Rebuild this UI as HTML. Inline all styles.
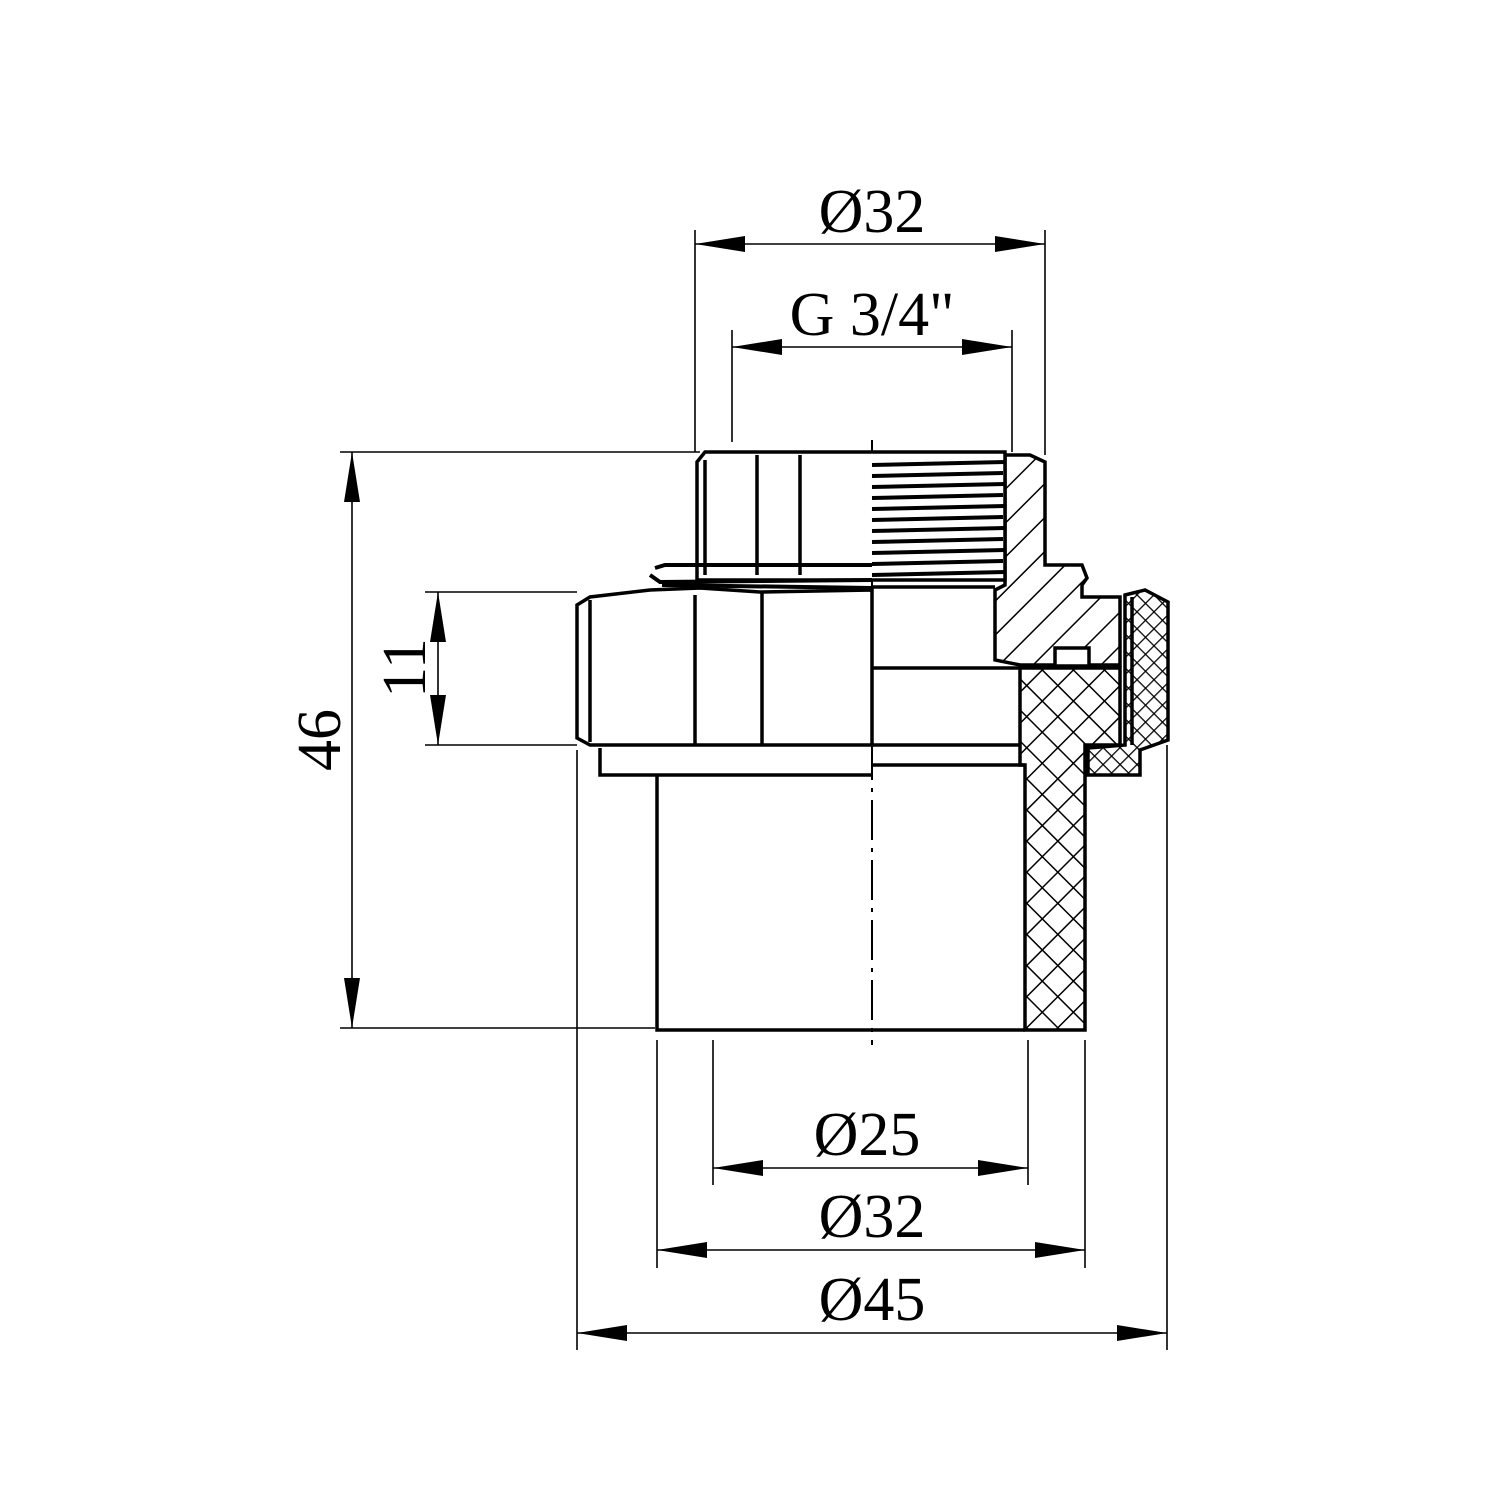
<!DOCTYPE html>
<html><head><style>html,body{margin:0;padding:0;background:#fff}</style></head><body>
<svg width="1500" height="1500" viewBox="0 0 1500 1500" xmlns="http://www.w3.org/2000/svg">
<defs>
<pattern id="diag" patternUnits="userSpaceOnUse" width="24" height="24" patternTransform="rotate(45)">
<line x1="0" y1="0" x2="0" y2="24" stroke="#000" stroke-width="3"/></pattern>
<pattern id="cross" patternUnits="userSpaceOnUse" width="22" height="22" patternTransform="rotate(45)">
<line x1="0" y1="0" x2="0" y2="22" stroke="#000" stroke-width="3"/><line x1="0" y1="0" x2="22" y2="0" stroke="#000" stroke-width="3"/></pattern>
<pattern id="crossf" patternUnits="userSpaceOnUse" width="12" height="12" patternTransform="rotate(45)">
<line x1="0" y1="0" x2="0" y2="12" stroke="#000" stroke-width="2.5"/><line x1="0" y1="0" x2="12" y2="0" stroke="#000" stroke-width="2.5"/></pattern>
<marker id="ar" viewBox="0 0 50 16" refX="50" refY="8" markerWidth="50" markerHeight="16" markerUnits="userSpaceOnUse" orient="auto-start-reverse">
<path d="M0,0 L50,8 L0,16 Z" fill="#000"/></marker>
</defs>
<g fill="none" stroke="#000" stroke-width="1.6">
<line x1="695" y1="230" x2="695" y2="452"/><line x1="1045" y1="230" x2="1045" y2="455"/>
<line x1="732" y1="330" x2="732" y2="442"/><line x1="1012" y1="330" x2="1012" y2="452"/>
<line x1="340" y1="452" x2="700" y2="452"/><line x1="340" y1="1028" x2="655" y2="1028"/>
<line x1="425" y1="592" x2="577" y2="592"/><line x1="425" y1="745" x2="577" y2="745"/>
<line x1="577" y1="750" x2="577" y2="1350"/><line x1="1167" y1="745" x2="1167" y2="1350"/>
<line x1="657" y1="1040" x2="657" y2="1268"/><line x1="1085" y1="1040" x2="1085" y2="1268"/>
<line x1="713" y1="1040" x2="713" y2="1185"/><line x1="1028" y1="1040" x2="1028" y2="1185"/>
<line x1="695" y1="244" x2="1045" y2="244" marker-start="url(#ar)" marker-end="url(#ar)"/>
<line x1="732" y1="347" x2="1012" y2="347" marker-start="url(#ar)" marker-end="url(#ar)"/>
<line x1="352" y1="452" x2="352" y2="1028" marker-start="url(#ar)" marker-end="url(#ar)"/>
<line x1="438" y1="592" x2="438" y2="745" marker-start="url(#ar)" marker-end="url(#ar)"/>
<line x1="713" y1="1168" x2="1028" y2="1168" marker-start="url(#ar)" marker-end="url(#ar)"/>
<line x1="657" y1="1250" x2="1085" y2="1250" marker-start="url(#ar)" marker-end="url(#ar)"/>
<line x1="577" y1="1333" x2="1167" y2="1333" marker-start="url(#ar)" marker-end="url(#ar)"/>
<line x1="872" y1="440" x2="872" y2="1045" stroke-dasharray="40,8,4,8" stroke-width="2"/>
</g>
<g stroke="#000" stroke-width="3.5" fill="none">
<path d="M1005,455 L1030,455 L1045,462 L1045,565 L1082,565 L1087,578 L1082,585 L1082,597 L1120,597 L1120,665 L1020,665 L995,660 L995,590 L1005,585 Z" fill="url(#diag)"/>
<rect x="1055" y="648" width="34" height="18" fill="#fff"/>
<path d="M1020,668 L1120,668 L1120,745 L1085,745 L1085,1030 L1025,1030 L1025,765 L1020,765 Z" fill="url(#cross)"/>
<path d="M1125,595 L1145,590 L1168,602 L1168,740 L1140,750 L1140,775 L1088,775 L1088,748 L1125,745 Z" fill="url(#crossf)"/>
<line x1="1132" y1="597" x2="1132" y2="745"/>
<path d="M697,462 L705,452 L1005,452 L1005,580 L697,580 Z" fill="#fff"/>
<line x1="705" y1="460" x2="705" y2="575"/><line x1="757" y1="455" x2="757" y2="575"/><line x1="800" y1="455" x2="800" y2="575"/>
<g stroke-width="4">
<line x1="872" y1="465" x2="1005" y2="462"/><line x1="872" y1="476" x2="1003" y2="473"/><line x1="872" y1="487" x2="1005" y2="484"/>
<line x1="872" y1="498" x2="1003" y2="495"/><line x1="872" y1="509" x2="1005" y2="506"/><line x1="872" y1="520" x2="1003" y2="517"/>
<line x1="872" y1="531" x2="1005" y2="528"/><line x1="872" y1="542" x2="1003" y2="539"/><line x1="872" y1="553" x2="1005" y2="550"/>
<line x1="872" y1="564" x2="1003" y2="561"/><line x1="872" y1="575" x2="1005" y2="572"/>
</g>
<path d="M655,568 L665,565 L872,565 M650,575 L660,582 L872,580 M662,585 L872,588" stroke-width="4"/>
<path d="M577,605 L590,597 L650,590 L700,588 L760,592 L872,590 L872,745 L590,745 L577,738 Z" fill="#fff"/>
<line x1="590" y1="600" x2="590" y2="742"/><line x1="695" y1="595" x2="695" y2="745"/><line x1="762" y1="592" x2="762" y2="745"/>
<path d="M600,748 L600,775 L872,775"/>
<path d="M657,775 L657,1030 L1025,1030"/>
<line x1="872" y1="587" x2="995" y2="587"/>
<line x1="872" y1="668" x2="1020" y2="668"/>
<line x1="872" y1="745" x2="1020" y2="745"/>
<line x1="872" y1="765" x2="1025" y2="765"/>
</g>
<g font-family="Liberation Serif, serif" font-size="62" fill="#000" text-anchor="middle">
<text x="872" y="232">Ø32</text>
<text x="872" y="335">G 3/4"</text>
<text x="867" y="1155">Ø25</text>
<text x="872" y="1237">Ø32</text>
<text x="872" y="1320">Ø45</text>
<text transform="translate(340,740) rotate(-90)">46</text>
<text transform="translate(425,668) rotate(-90)">11</text>
</g>
</svg>
</body></html>
